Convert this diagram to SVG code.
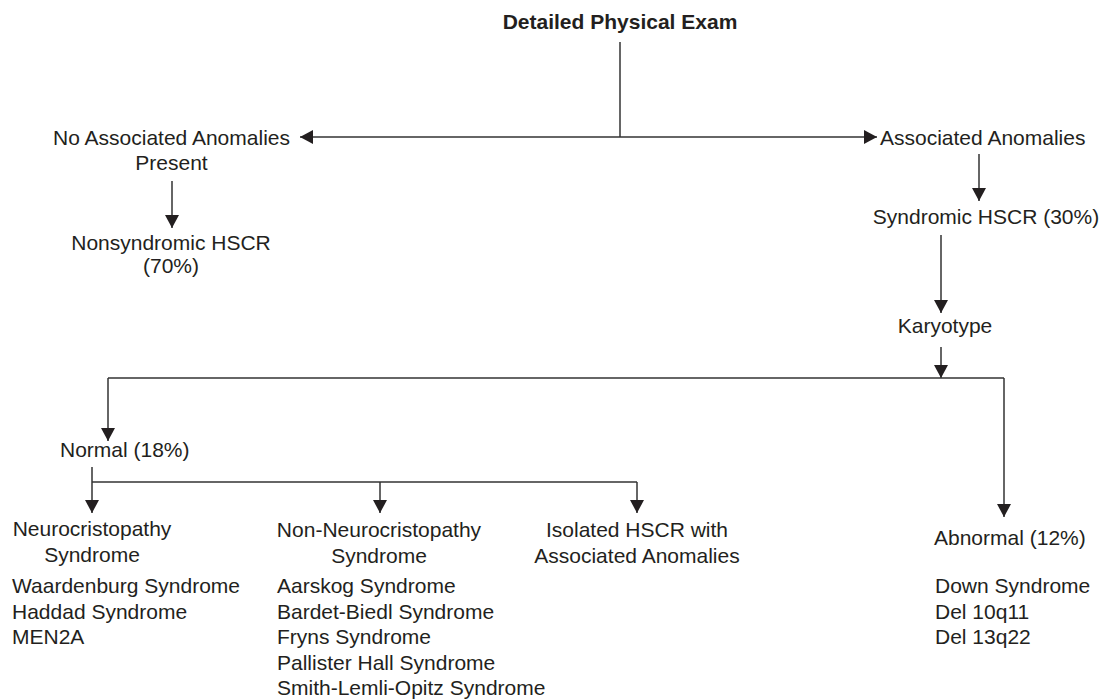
<svg xmlns="http://www.w3.org/2000/svg" width="1105" height="699" viewBox="0 0 1105 699">
<style>
text{font-family:"Liberation Sans",Arial,sans-serif;font-size:21px;fill:#231f20}
.b{font-weight:bold}
.c{text-anchor:middle}
.ln{stroke:#333;stroke-width:1.5;fill:none}
.ar{marker-end:url(#ah)}
</style>
<defs>
<marker id="ah" markerUnits="userSpaceOnUse" markerWidth="14" markerHeight="14" viewBox="0 0 13 14" refX="13" refY="7" orient="auto">
<path d="M0,0 L13,7 L0,14 Z" fill="#231f20"/>
</marker>
</defs>
<rect width="1105" height="699" fill="#fff"/>
<g id="connectors">
<line class="ln" x1="620" y1="42" x2="620" y2="137"/>
<line class="ln ar" x1="620" y1="137" x2="300" y2="137"/>
<line class="ln ar" x1="620" y1="137" x2="877" y2="137"/>
<line class="ln ar" x1="172" y1="181" x2="172" y2="228"/>
<line class="ln ar" x1="979" y1="154" x2="979" y2="201"/>
<line class="ln ar" x1="941" y1="235" x2="941" y2="313"/>
<line class="ln ar" x1="941" y1="347" x2="941" y2="378"/>
<line class="ln" x1="108" y1="378" x2="1004" y2="378"/>
<line class="ln ar" x1="108" y1="378" x2="108" y2="441"/>
<line class="ln ar" x1="1004" y1="378" x2="1004" y2="517"/>
<line class="ln" x1="92" y1="467" x2="92" y2="482"/>
<line class="ln" x1="92" y1="482" x2="637" y2="482"/>
<line class="ln ar" x1="92" y1="482" x2="92" y2="513"/>
<line class="ln ar" x1="380" y1="482" x2="380" y2="513"/>
<line class="ln ar" x1="637" y1="482" x2="637" y2="513"/>
</g>
<g id="exam"><text class="b c" x="620" y="29">Detailed Physical Exam</text></g>
<g id="no-anomalies">
<text class="c" x="171.5" y="145">No Associated Anomalies</text>
<text class="c" x="171.5" y="170">Present</text>
</g>
<g id="nonsyndromic">
<text class="c" x="171" y="250">Nonsyndromic HSCR</text>
<text class="c" x="171" y="273">(70%)</text>
</g>
<g id="anomalies"><text x="880" y="145">Associated Anomalies</text></g>
<g id="syndromic"><text class="c" x="986" y="224">Syndromic HSCR (30%)</text></g>
<g id="karyotype"><text class="c" x="945" y="333">Karyotype</text></g>
<g id="normal"><text x="60" y="457">Normal (18%)</text></g>
<g id="neuro">
<text class="c" x="92" y="536">Neurocristopathy</text>
<text class="c" x="92" y="562">Syndrome</text>
<text x="12" y="593">Waardenburg Syndrome</text>
<text x="12" y="618.5">Haddad Syndrome</text>
<text x="12" y="644">MEN2A</text>
</g>
<g id="non-neuro">
<text class="c" x="379" y="537">Non-Neurocristopathy</text>
<text class="c" x="379" y="563">Syndrome</text>
<text x="277" y="593">Aarskog Syndrome</text>
<text x="277" y="618.5">Bardet-Biedl Syndrome</text>
<text x="277" y="644">Fryns Syndrome</text>
<text x="277" y="669.5">Pallister Hall Syndrome</text>
<text x="277" y="695">Smith-Lemli-Opitz Syndrome</text>
</g>
<g id="isolated">
<text class="c" x="637" y="537">Isolated HSCR with</text>
<text class="c" x="637" y="563">Associated Anomalies</text>
</g>
<g id="abnormal">
<text x="934" y="545">Abnormal (12%)</text>
<text x="935" y="593">Down Syndrome</text>
<text x="935" y="618.5">Del 10q11</text>
<text x="935" y="644">Del 13q22</text>
</g>
</svg>
